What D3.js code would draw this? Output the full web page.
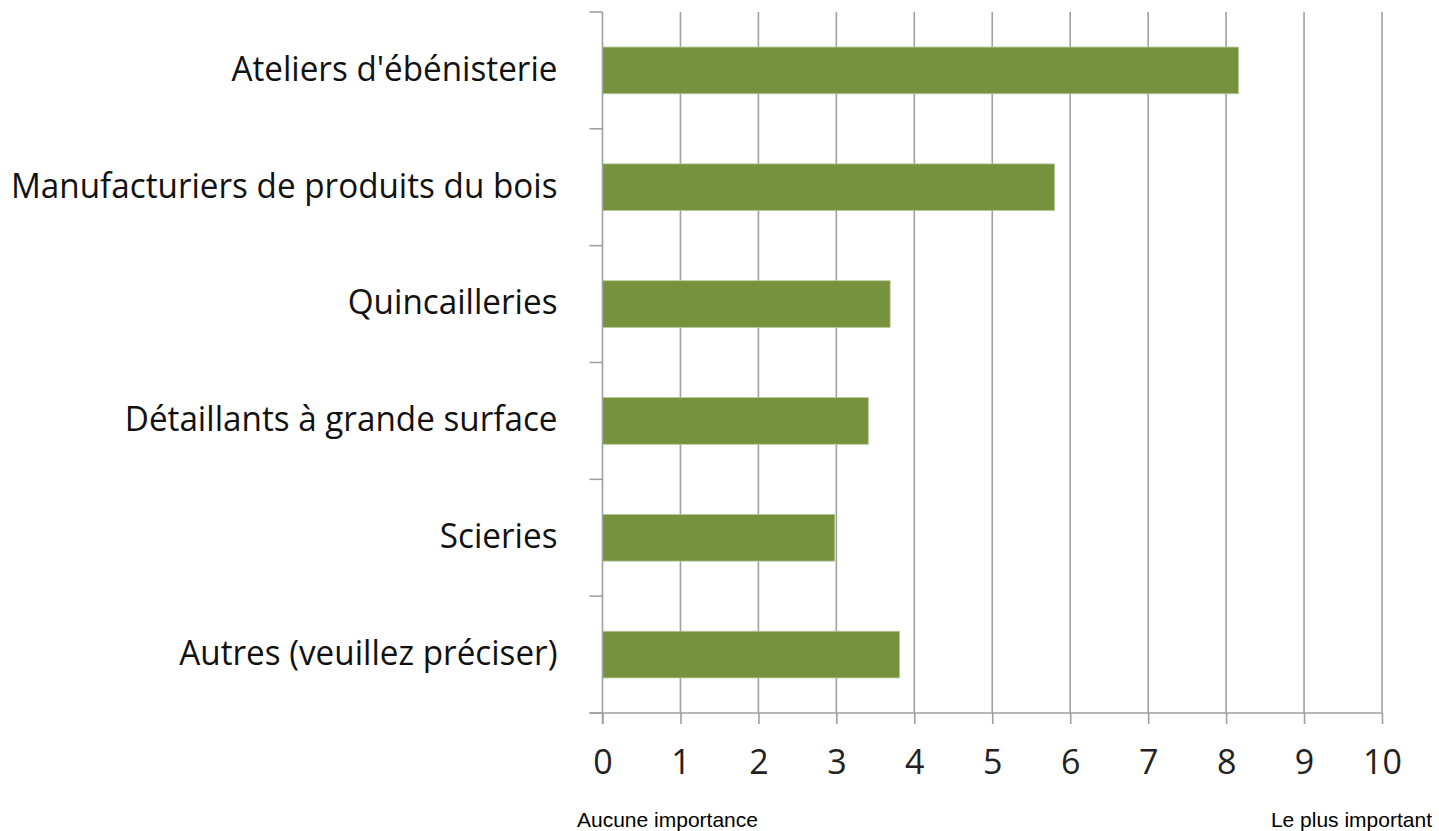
<!DOCTYPE html>
<html>
<head>
<meta charset="utf-8">
<script src="https://cdn.jsdelivr.net/npm/d3@7"></script>
<style>
  body { margin: 0; background: #fff; }
  svg { display: block; }
</style>
</head>
<body>
<svg></svg>
<script>
let categories = [
  "Ateliers d'ébénisterie",
  "Manufacturiers de produits du bois",
  "Quincailleries",
  "Détaillants à grande surface",
  "Scieries",
  "Autres (veuillez préciser)"
]
let values = [ 8.16, 5.80, 3.69, 3.41, 2.98, 3.81 ]
let xTicks = [ 0, 1, 2, 3, 4, 5, 6, 7, 8, 9, 10 ]
let endLabels = [ "Aucune importance", "Le plus important" ]

let width = 1439
let height = 831
let plotLeft = 602.5
let plotRight = 1382
let plotTop = 12
let plotBottom = 713

const xScale =
d3.scaleLinear()
  .domain( [ 0, 10 ] )
  .range( [ plotLeft, plotRight ] )

const yScale =
d3.scaleBand()
  .domain( categories )
  .range( [ plotTop, plotBottom ] )
  .paddingInner( 0.6 )
  .paddingOuter( 0.3 )

const yBand =
d3.scaleBand()
  .domain( categories )
  .range( [ plotTop, plotBottom ] )

let chart =
d3.select( 'svg' )
  .attr( 'width', width )
  .attr( 'height', height )

// vertical gridlines
chart.append( 'g' )
  .selectAll( 'line' )
  .data( xTicks.slice( 1 ) )
  .enter()
  .append( 'line' )
  .attr( 'x1', d => xScale( d ) )
  .attr( 'x2', d => xScale( d ) )
  .attr( 'y1', plotTop )
  .attr( 'y2', plotBottom )
  .attr( 'stroke', '#a0a0a0' )
  .attr( 'stroke-width', 1.6 )

// bars
chart.append( 'g' )
  .selectAll( 'rect' )
  .data( values )
  .enter()
  .append( 'rect' )
  .attr( 'x', xScale( 0 ) )
  .attr( 'y', ( d, i ) => yScale( categories[ i ] ) )
  .attr( 'width', d => xScale( d ) - xScale( 0 ) )
  .attr( 'height', yScale.bandwidth() )
  .attr( 'fill', '#77923c' )
  .attr( 'stroke', '#b9c99a' )
  .attr( 'stroke-width', 0.8 )

// y axis line and tick marks between categories
let yAxis = chart.append( 'g' )
yAxis.append( 'line' )
  .attr( 'x1', plotLeft ).attr( 'x2', plotLeft )
  .attr( 'y1', plotTop ).attr( 'y2', plotBottom + 11 )
  .attr( 'stroke', '#a0a0a0' )
  .attr( 'stroke-width', 1.6 )

let bounds = categories.map( c => yBand( c ) ).concat( [ plotBottom ] )
yAxis.selectAll( '.ytick' )
  .data( bounds )
  .enter()
  .append( 'line' )
  .attr( 'x1', plotLeft - 13 ).attr( 'x2', plotLeft )
  .attr( 'y1', d => d ).attr( 'y2', d => d )
  .attr( 'stroke', '#a0a0a0' )
  .attr( 'stroke-width', 1.6 )

// x axis
let xAxis =
d3.axisBottom( xScale )
  .tickValues( xTicks )
  .tickSize( 11 )
  .tickPadding( 19 )
  .tickFormat( d3.format( 'd' ) )

let gx = chart.append( 'g' )
  .attr( 'transform', `translate(0,${ plotBottom })` )
  .call( xAxis )

gx.select( '.domain' ).attr( 'd', `M${ plotLeft - 13 },0H${ plotRight }` )
  .attr( 'stroke', '#a0a0a0' ).attr( 'stroke-width', 1.6 )
gx.selectAll( '.tick line' ).attr( 'stroke', '#a0a0a0' ).attr( 'stroke-width', 1.6 )
gx.selectAll( '.tick text' )
  .attr( 'font-family', 'Open Sans, sans-serif' )
  .attr( 'font-size', 34 )
  .attr( 'fill', '#222' )
  .attr( 'dy', '0.9em' )

// category labels
chart.append( 'g' )
  .selectAll( 'text' )
  .data( categories )
  .enter()
  .append( 'text' )
  .text( d => d )
  .attr( 'text-anchor', 'end' )
  .attr( 'dominant-baseline', 'middle' )
  .attr( 'transform', d => `translate(${ plotLeft - 45 },${ yBand( d ) + yBand.bandwidth() / 2 + 1 }) scale(0.95,1)` )
  .attr( 'font-family', 'Open Sans, sans-serif' )
  .attr( 'font-size', 35 )
  .attr( 'fill', '#111' )

// end labels
chart.append( 'text' )
  .text( endLabels[ 0 ] )
  .attr( 'x', 577 )
  .attr( 'y', 827 )
  .attr( 'font-family', 'Liberation Sans, Arial, sans-serif' )
  .attr( 'font-size', 21 )
  .attr( 'fill', '#000' )

chart.append( 'text' )
  .text( endLabels[ 1 ] )
  .attr( 'x', 1432 )
  .attr( 'y', 827 )
  .attr( 'text-anchor', 'end' )
  .attr( 'font-family', 'Liberation Sans, Arial, sans-serif' )
  .attr( 'font-size', 21 )
  .attr( 'fill', '#000' )
</script>
</body>
</html>
